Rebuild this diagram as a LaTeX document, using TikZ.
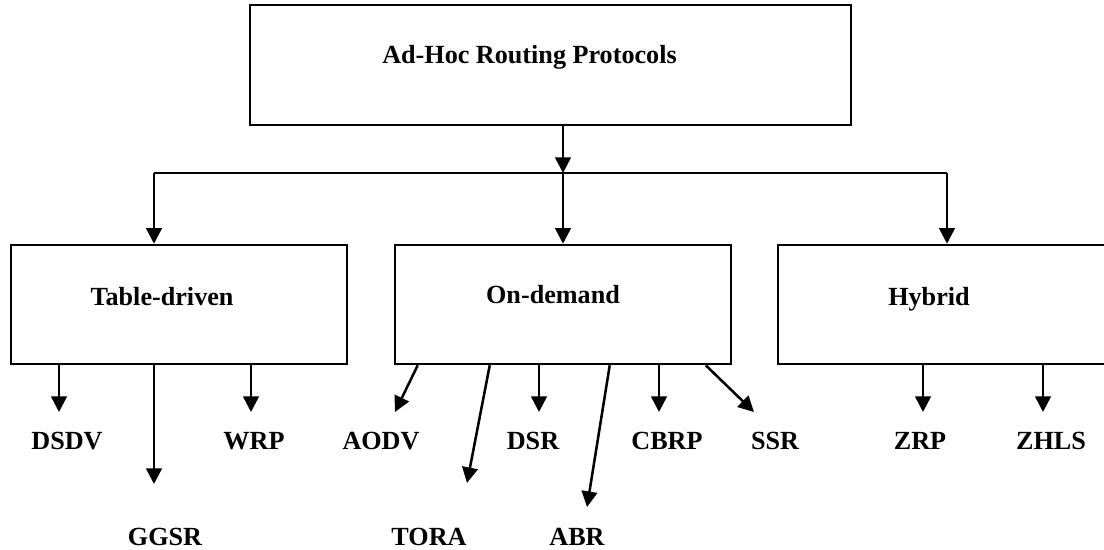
\documentclass[tikz,border=0pt]{standalone}
\usepackage{fontspec}
\setmainfont{Liberation Serif}
\usetikzlibrary{arrows.meta,fit,calc}

\tikzset{
  box/.style={draw, line width=1.8pt, rectangle, inner sep=0pt},
  lbl/.style={font=\fontsize{18.6pt}{22pt}\selectfont\bfseries, inner sep=0pt, anchor=base},
  arr/.style={line width=1.8pt, -{Triangle[length=0.39cm, width=0.39cm]}},
  wire/.style={line width=1.8pt}
}

\begin{document}
\begin{tikzpicture}[x=0.025cm, y=-0.025cm]
  \useasboundingbox (0,0) rectangle (1104,550);
  \clip (0,0) rectangle (1104,550);

  % boxes
  \node[box, fit={(250,5) (851,125)}] (root) {};
  \node[box, fit={(11,245) (347,364)}] (tbl) {};
  \node[box, fit={(395,245) (731,364)}] (ond) {};
  \node[box, fit={(778,245) (1130,364)}] (hyb) {};

  % box titles
  \node[lbl] (troot) at (529.5,64) {Ad-Hoc Routing Protocols};
  \node[lbl] (ttbl) at (162,305) {Table-driven};
  \node[lbl] (tond) at (553,304) {On-demand};
  \node[lbl] (thyb) at (929,305) {Hybrid};

  % protocol labels
  \node[lbl] (dsdv) at (67,449) {DSDV};
  \node[lbl] (ggsr) at (165,545) {GGSR};
  \node[lbl] (wrp)  at (254,449) {WRP};
  \node[lbl] (aodv) at (381,449) {AODV};
  \node[lbl] (tora) at (429,545) {TORA};
  \node[lbl] (dsr)  at (533,449) {DSR};
  \node[lbl] (abr)  at (577,545) {ABR};
  \node[lbl] (cbrp) at (667,449) {CBRP};
  \node[lbl] (ssr)  at (775,449) {SSR};
  \node[lbl] (zrp)  at (920,449) {ZRP};
  \node[lbl] (zhls) at (1051,449) {ZHLS};

  % distribution bus below the root
  \coordinate (jm) at (563,173);
  \coordinate (jl) at (154,173);
  \coordinate (jr) at (947,173);
  \draw[arr] (root.south -| jm) -- (jm);
  \draw[wire] (jl) -- (jr);
  \draw[arr] (jl) -- (jl |- tbl.north);
  \draw[arr] (jm) -- (jm |- ond.north);
  \draw[arr] (jr) -- (jr |- hyb.north);

  % arrow tips above the protocol labels
  \coordinate (p-dsdv) at (59,412);
  \coordinate (p-ggsr) at (154,484);
  \coordinate (p-wrp)  at (251,412);
  \coordinate (p-aodv) at (395,412);
  \coordinate (p-tora) at (467,483);
  \coordinate (p-dsr)  at (539,412);
  \coordinate (p-abr)  at (587,507);
  \coordinate (p-cbrp) at (659,412);
  \coordinate (p-ssr)  at (754,412);
  \coordinate (p-zrp)  at (923,412);
  \coordinate (p-zhls) at (1043,412);

  % table-driven protocols
  \draw[arr] (tbl.south -| p-dsdv) -- (p-dsdv);
  \draw[arr] (tbl.south -| p-ggsr) -- (p-ggsr);
  \draw[arr] (tbl.south -| p-wrp) -- (p-wrp);

  % on-demand protocols
  \draw[arr] ($(ond.south west)+(24,0)$) -- (p-aodv);
  \draw[arr] ($(ond.south west)+(96,0)$) -- (p-tora);
  \draw[arr] (ond.south -| p-dsr) -- (p-dsr);
  \draw[arr] ($(ond.south west)+(216,0)$) -- (p-abr);
  \draw[arr] (ond.south -| p-cbrp) -- (p-cbrp);
  \draw[arr] ($(ond.south west)+(312,0)$) -- (p-ssr);

  % hybrid protocols
  \draw[arr] (hyb.south -| p-zrp) -- (p-zrp);
  \draw[arr] (hyb.south -| p-zhls) -- (p-zhls);
\end{tikzpicture}
\end{document}
